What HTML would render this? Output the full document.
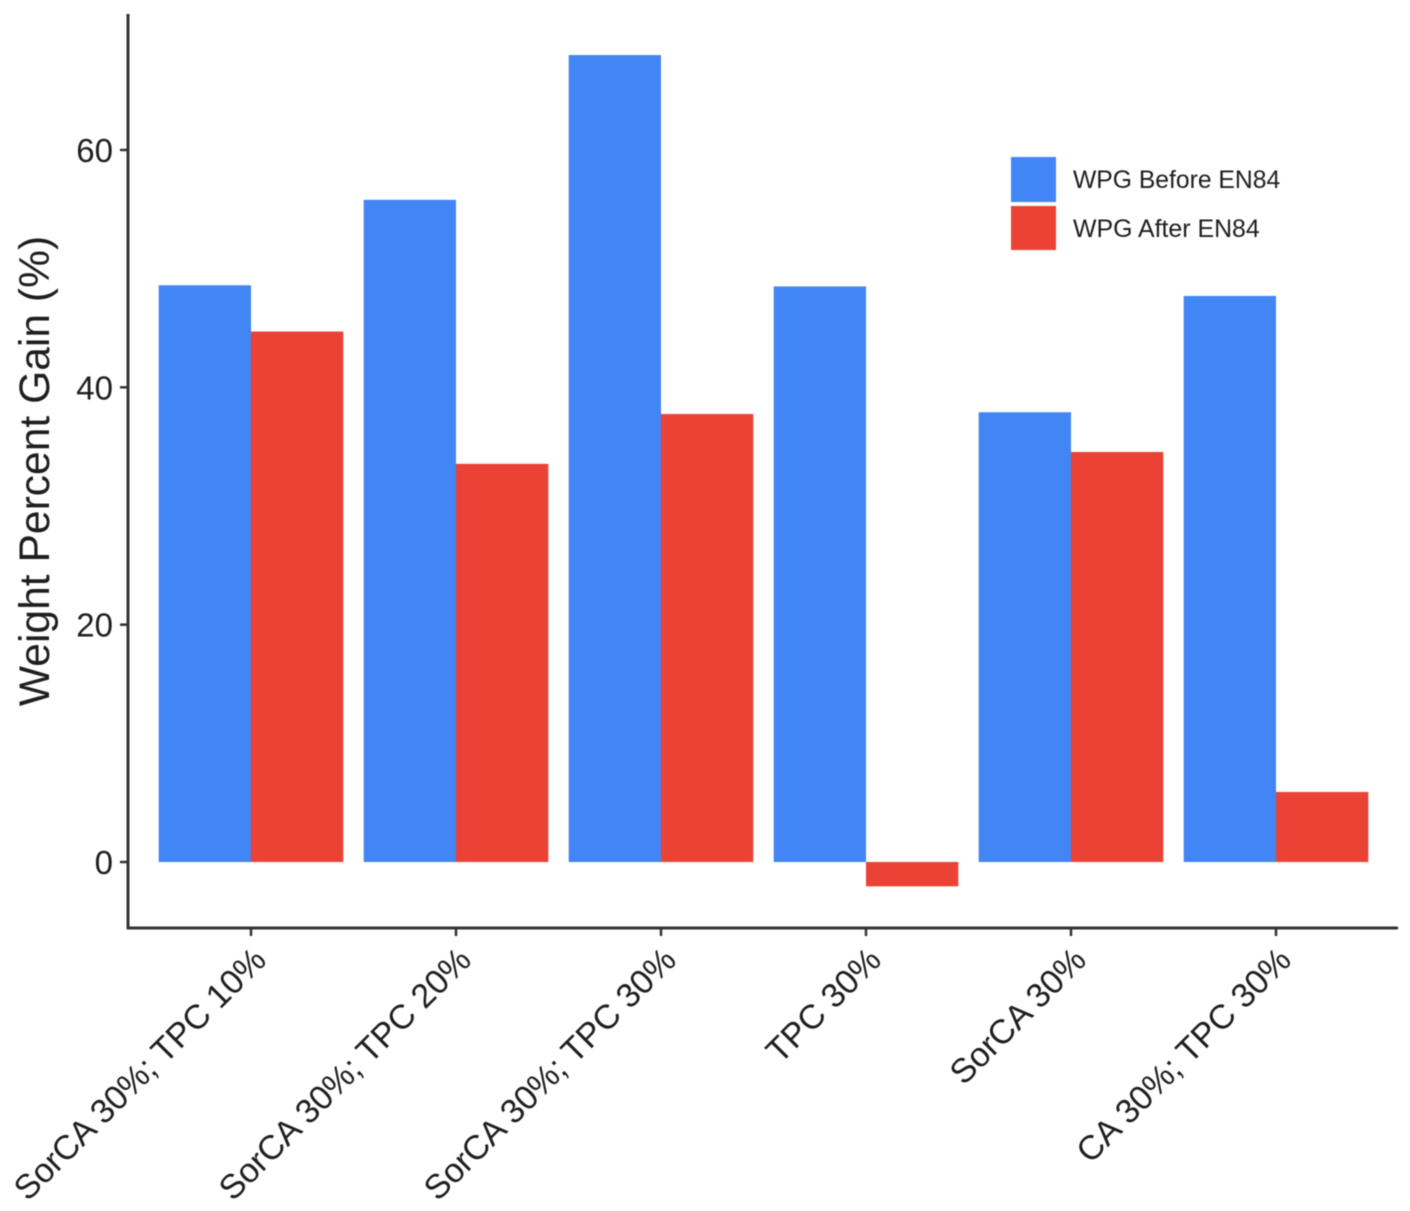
<!DOCTYPE html>
<html lang="en">
<head>
<meta charset="utf-8">
<title>Weight Percent Gain</title>
<style>
html,body{margin:0;padding:0;background:#fff;}
svg{display:block;filter:blur(0.6px);}
text{font-family:"Liberation Sans",sans-serif;fill:#1e1e1e;}
</style>
</head>
<body>
<svg id="chart" xmlns="http://www.w3.org/2000/svg" width="1410" height="1211" viewBox="0 0 1410 1211">
  <rect x="0" y="0" width="1410" height="1211" fill="#ffffff"/>
  <g id="bars"></g>
  <g id="y-ticks"></g>
  <g id="x-ticks"></g>
  <line x1="128" y1="14" x2="128" y2="929" stroke="#333333" stroke-width="3"/>
  <line x1="127" y1="928" x2="1398" y2="928" stroke="#333333" stroke-width="3"/>
  <text transform="translate(49,471) rotate(-90)" text-anchor="middle" font-size="42.6">Weight Percent Gain (%)</text>
  <g>
    <rect x="1011" y="157" width="45" height="45" fill="#4285F4"/>
    <text x="1073" y="188" font-size="24.7">WPG Before EN84</text>
    <rect x="1011" y="206" width="45" height="44" fill="#EA4335"/>
    <text x="1073" y="237" font-size="24.9">WPG After EN84</text>
  </g>
</svg>
<script>
const categories = ["SorCA 30%; TPC 10%", "SorCA 30%; TPC 20%", "SorCA 30%; TPC 30%", "TPC 30%", "SorCA 30%", "CA 30%; TPC 30%"];
const wpgBefore = [48.6, 55.8, 68.0, 48.5, 37.9, 47.7];
const wpgAfter = [44.7, 33.55, 37.75, -2.05, 34.55, 5.9];
const yTickValues = [0, 20, 40, 60];

const NS = "http://www.w3.org/2000/svg";
function yScale(v) { return 862 - v * 11.867; }
function xCenter(i) { return 251 + i * 205; }
const barWidth = 92.3;

function makeEl(tag, attrs) {
  const el = document.createElementNS(NS, tag);
  for (const k in attrs) el.setAttribute(k, attrs[k]);
  return el;
}

const barsG = document.getElementById("bars");
function drawBar(value, i, left, color, name) {
  const y0 = yScale(0);
  const yv = yScale(value);
  const r = makeEl("rect", {
    x: left,
    y: Math.min(y0, yv),
    width: barWidth,
    height: Math.abs(y0 - yv),
    fill: color
  });
  
  
  barsG.appendChild(r);
}
wpgBefore.forEach(function (v, i) {
  drawBar(v, i, xCenter(i) - barWidth, "#4285F4", "bar-before-" + (i + 1));
});
wpgAfter.forEach(function (v, i) {
  drawBar(v, i, xCenter(i), "#EA4335", "bar-after-" + (i + 1));
});

const yTicksG = document.getElementById("y-ticks");
yTickValues.forEach(function (v) {
  const y = yScale(v);
  const t = makeEl("line", { x1: 120, x2: 128, y1: y, y2: y, stroke: "#333333", "stroke-width": 2.5 });
  
  
  yTicksG.appendChild(t);
  const l = makeEl("text", { x: 113, y: y + 12, "text-anchor": "end", "font-size": 33 });
  
  
  l.textContent = String(v);
  yTicksG.appendChild(l);
});

const xTicksG = document.getElementById("x-ticks");
categories.forEach(function (c, i) {
  const x = xCenter(i);
  const t = makeEl("line", { x1: x, x2: x, y1: 928, y2: 936, stroke: "#333333", "stroke-width": 2.5 });
  
  
  xTicksG.appendChild(t);
  const l = makeEl("text", {
    transform: "translate(" + (x + 17) + ",962) rotate(-45)",
    "text-anchor": "end",
    "font-size": 34
  });
  
  
  l.textContent = c;
  xTicksG.appendChild(l);
});
</script>
</body>
</html>
